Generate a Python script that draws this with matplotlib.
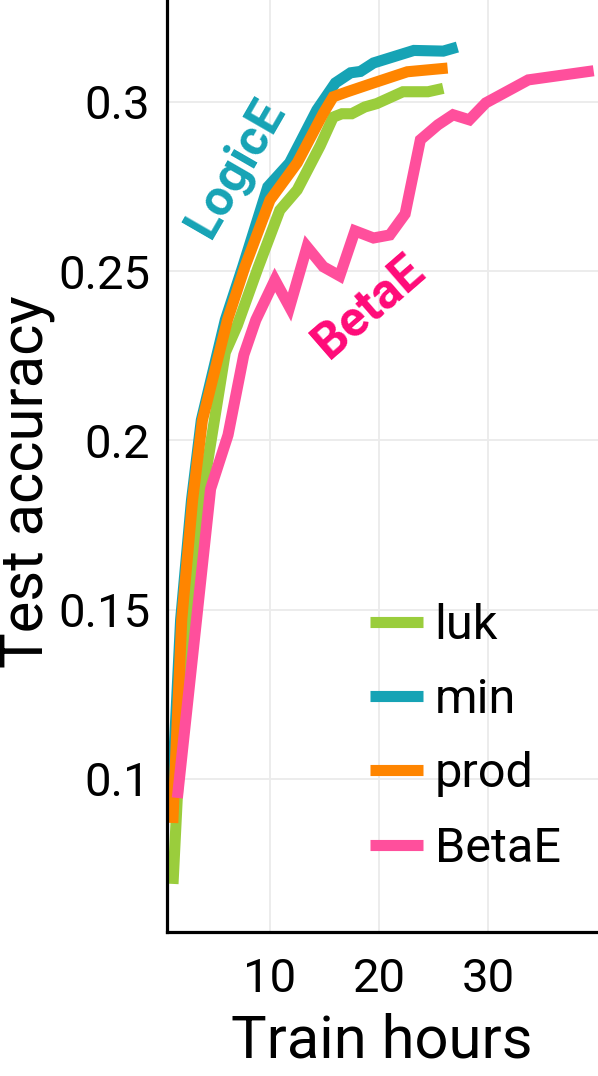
import matplotlib.pyplot as plt

plt.rcParams['font.family'] = ['Roboto', 'DejaVu Sans']

# curves (train hours, test accuracy)
luk_x = [1.1, 2.3, 3.9, 5.9, 7.0, 8.9, 10.9, 12.5, 14.6, 15.8, 16.6, 17.5, 18.7, 19.8, 22.2, 24.5, 25.9]
luk_y = [0.069, 0.147, 0.186, 0.226, 0.234, 0.251, 0.268, 0.274, 0.287, 0.2955, 0.2965, 0.2965,
         0.2985, 0.2995, 0.303, 0.303, 0.304]

min_x = [1.0, 1.8, 2.8, 3.7, 5.9, 7.5, 9.8, 11.8, 12.75, 14.3, 16.0, 17.4, 18.3, 19.5, 21.3, 23.2, 25.9, 27.2]
min_y = [0.095, 0.147, 0.1824, 0.206, 0.2356, 0.2513, 0.2749, 0.282, 0.2879, 0.2976, 0.3056, 0.3086,
         0.309, 0.3115, 0.3133, 0.3152, 0.315, 0.3162]

prod_x = [1.08, 1.9, 2.9, 3.8, 6.1, 7.7, 10.0, 12.5, 14.9, 15.8, 17.1, 19.5, 22.6, 26.3]
prod_y = [0.087, 0.147, 0.1824, 0.206, 0.2356, 0.2513, 0.271, 0.282, 0.2967, 0.3015, 0.303, 0.3056,
          0.3089, 0.310]

beta_x = [1.5, 4.55, 6.15, 7.6, 8.7, 10.45, 11.8, 13.4, 14.9, 16.4, 17.8, 19.5, 21.0, 22.4, 23.8,
          25.4, 26.8, 28.3, 29.8, 33.7, 39.7]
beta_y = [0.0944, 0.1857, 0.2016, 0.2253, 0.2356, 0.2474, 0.2394, 0.2572, 0.2513, 0.2486, 0.2619,
          0.2598, 0.2607, 0.2669, 0.2888, 0.2932, 0.2962, 0.2947, 0.2997, 0.3065, 0.3092]

series = [
    ('luk', luk_x, luk_y, '#9acd3c'),
    ('min', min_x, min_y, '#16a3b5'),
    ('prod', prod_x, prod_y, '#ff8500'),
    ('BetaE', beta_x, beta_y, '#ff4f9c'),
]

fig = plt.figure(figsize=(5.98, 10.76), dpi=100)
ax = fig.add_axes([167 / 598, 144 / 1076, 431 / 598, 932 / 1076])

for name, xs, ys, col in series:
    ax.plot(xs, ys, color=col, lw=8, label=name, solid_capstyle='butt', solid_joinstyle='miter')

ax.set_xlim(0.55, 40.1)
ax.set_ylim(0.0548, 0.3301)

ax.set_xticks([10, 20, 30])
ax.set_yticks([0.1, 0.15, 0.2, 0.25, 0.3])
ax.set_yticklabels(['0.1', '0.15', '0.2', '0.25', '0.3'])
ax.tick_params(axis='x', length=0, labelsize=34, pad=18)
ax.tick_params(axis='y', length=0, labelsize=34, pad=12)

ax.grid(True, color='#ebebeb', lw=1.3)
ax.set_axisbelow(True)
for s in ['top', 'right']:
    ax.spines[s].set_visible(False)
for s in ['left', 'bottom']:
    ax.spines[s].set_linewidth(2.3)
    ax.spines[s].set_color('black')

fig.text(382 / 598, 1 - 1058 / 1076, 'Train hours', fontsize=43, ha='center', va='baseline')
fig.text(27 / 598, 1 - 482 / 1076, 'Test accuracy', fontsize=43, rotation=90, ha='center', va='center')

# labels written on the plot
ax.text(6.9, 0.2805, 'LogicE', color='#16a3b5', fontsize=36, fontweight='bold',
        rotation=60, ha='center', va='center', rotation_mode='anchor')
ax.text(19.1, 0.2395, 'BetaE', color='#ff0a78', fontsize=36, fontweight='bold',
        rotation=41, ha='center', va='center', rotation_mode='anchor')

ax.legend(loc='upper left', bbox_to_anchor=(370 / 598, 1 - 603 / 1076), bbox_transform=fig.transFigure,
          frameon=False, fontsize=35, handlelength=1.08, handletextpad=0.25, labelspacing=0.58,
          borderpad=0, borderaxespad=0)

fig.savefig('out.png', dpi=100)
